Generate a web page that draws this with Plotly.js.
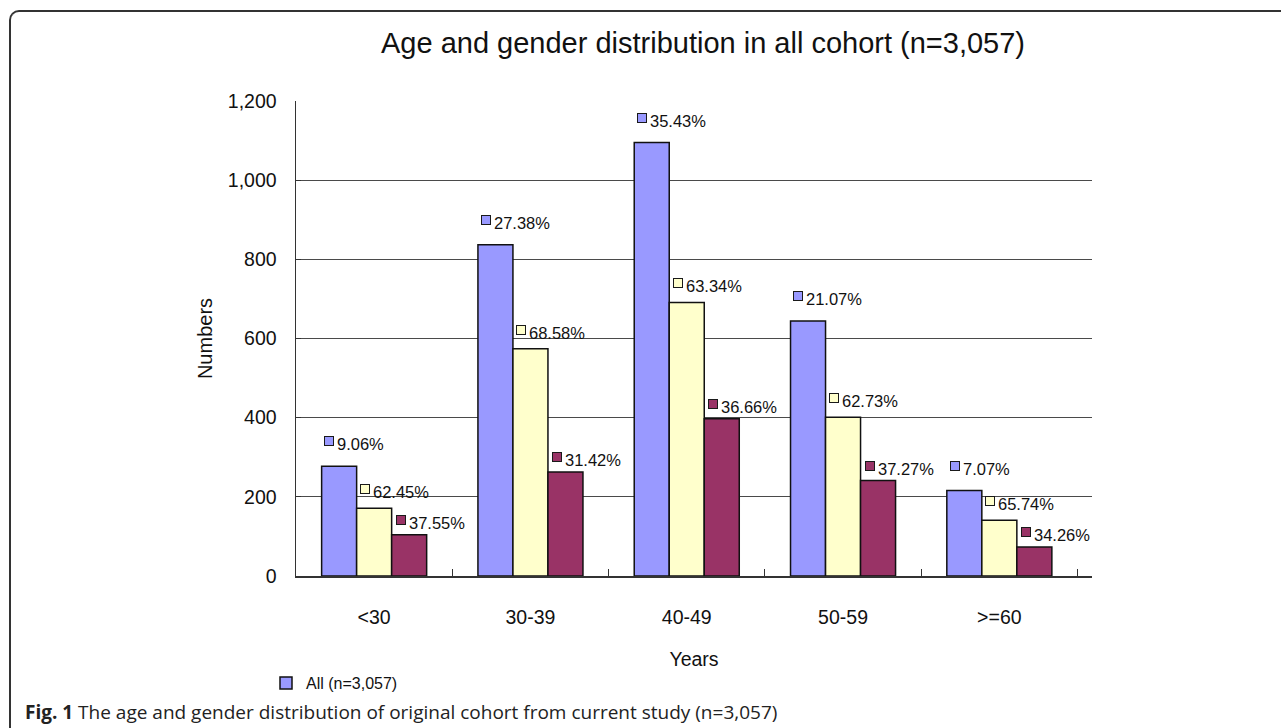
<!DOCTYPE html>
<html>
<head>
<meta charset="utf-8">
<script src="https://cdn.plot.ly/plotly-3.0.1.min.js"></script>
<style>
  html, body { margin: 0; padding: 0; background: #ffffff; overflow: hidden; }
  #wrap { position: relative; width: 1281px; height: 728px; }
  #chart { position: absolute; left: 0; top: 0; width: 1281px; height: 728px; }
  #frame { position: absolute; left: 9px; top: 10px; width: 1400px; height: 800px;
           border-left: 2px solid #333; border-top: 2px solid #333;
           border-top-left-radius: 10px; pointer-events: none; }
</style>
</head>
<body>
<div id="wrap">
  <div id="chart"></div>
  <div id="frame"></div>
</div>
<script>
const categories = ['<30', '30-39', '40-49', '50-59', '>=60'];
const allCounts = [277, 837, 1095, 644, 216];
const maleCounts = [171, 574, 691, 401, 141];
const femaleCounts = [104, 263, 397, 241, 73];
const pctAll = ['9.06%', '27.38%', '35.43%', '21.07%', '7.07%'];
const pctMale = ['62.45%', '68.58%', '63.34%', '62.73%', '65.74%'];
const pctFemale = ['37.55%', '31.42%', '36.66%', '37.27%', '34.26%'];
const seriesNames = ['All (n=3,057)', 'Male', 'Female'];

const colors = ['#9999FF', '#FFFFCC', '#993366'];
const FONT = 'Liberation Sans, Arial, sans-serif';

const series = [allCounts, maleCounts, femaleCounts];
const pcts = [pctAll, pctMale, pctFemale];

const traces = series.map((vals, i) => ({
  type: 'bar',
  name: seriesNames[i],
  x: categories,
  y: vals,
  marker: { color: colors[i], line: { color: '#111', width: 1.5 } },
  showlegend: i === 0,
  hoverinfo: 'x+y+name'
}));

// label placement (pixel style offsets)
const barPx = 35.66;
const groupShift = [-barPx, 0, barPx];
const lift = [25, 19, 15];

const annotations = [];
series.forEach((vals, i) => {
  vals.forEach((v, j) => {
    annotations.push({
      x: categories[j], y: v, xref: 'x', yref: 'y',
      text: ' ', font: { size: 2 }, showarrow: false,
      width: 8, height: 8, borderpad: 0, borderwidth: 1,
      bgcolor: colors[i], bordercolor: '#1a1a1a',
      xanchor: 'center', yanchor: 'middle',
      xshift: groupShift[i] - 9, yshift: lift[i]
    });
    annotations.push({
      x: categories[j], y: v, xref: 'x', yref: 'y',
      text: pcts[i][j], showarrow: false,
      font: { family: FONT, size: 16.5, color: '#111' },
      xanchor: 'left', yanchor: 'middle',
      xshift: groupShift[i] - 3, yshift: lift[i] - 3
    });
  });
});

annotations.push({
  xref: 'paper', yref: 'paper',
  x: (23 - 296) / 796, y: (576 - 712) / 475,
  xanchor: 'left', yanchor: 'middle', showarrow: false,
  text: '<b>Fig. 1</b> The age and gender distribution of original cohort from current study (n=3,057)',
  font: { family: 'Open Sans, Noto Sans, sans-serif', size: 19, color: '#222' }
});

const layout = {
  width: 1281, height: 728,
  margin: { l: 296, r: 189, t: 101, b: 152, pad: 0 },
  paper_bgcolor: 'rgba(0,0,0,0)', plot_bgcolor: '#ffffff',
  font: { family: FONT, color: '#111' },
  title: {
    text: 'Age and gender distribution in all cohort (n=3,057)',
    font: { family: FONT, size: 29, color: '#111' },
    x: 703 / 1281, xanchor: 'center', y: 1 - 43 / 728, yanchor: 'middle'
  },
  barmode: 'group', bargap: 0.328, bargroupgap: 0,
  xaxis: {
    type: 'category',
    showline: true, linecolor: '#333', linewidth: 1.5,
    ticks: 'inside', tickson: 'boundaries', ticklen: 7, tickcolor: '#333',
    tickfont: { family: FONT, size: 19.5, color: '#111' },
    ticklabelstandoff: 23,
    title: { text: 'Years', font: { family: FONT, size: 19.5, color: '#111' }, standoff: 25 },
    showgrid: false
  },
  yaxis: {
    range: [0, 1200], dtick: 200, tickformat: ',d',
    showline: true, linecolor: '#333', linewidth: 1.5,
    ticks: 'inside', ticklen: 5, tickcolor: '#333',
    tickfont: { family: FONT, size: 19.5, color: '#111' },
    ticklabelstandoff: 14,
    showgrid: true, gridcolor: '#4a4a4a', gridwidth: 1,
    zeroline: false,
    title: { text: 'Numbers', font: { family: FONT, size: 20, color: '#111' }, standoff: 10 }
  },
  legend: {
    x: (266 - 296) / 796, y: (576 - 683) / 475, xanchor: 'left', yanchor: 'middle',
    font: { family: FONT, size: 16, color: '#111' },
    bgcolor: 'rgba(0,0,0,0)', itemwidth: 30
  },
  annotations: annotations
};

Plotly.newPlot('chart', traces, layout, { displayModeBar: false, staticPlot: true });
</script>
</body>
</html>
